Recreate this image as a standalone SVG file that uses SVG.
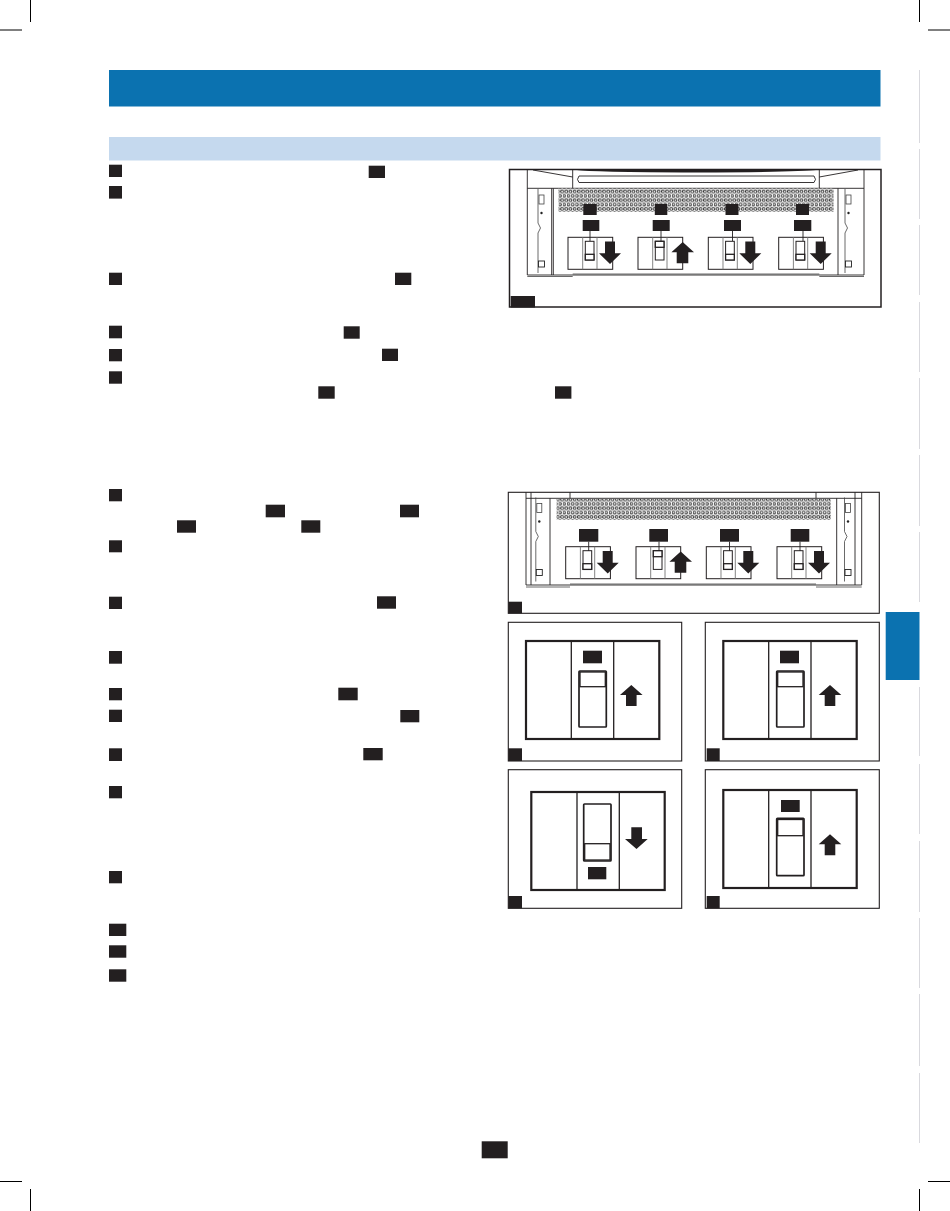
<svg xmlns="http://www.w3.org/2000/svg" width="950" height="1211" viewBox="0 0 950 1211">
<style>
.k{fill:#231f20}
.frame{fill:#fff;stroke:#231f20;stroke-width:1.1}
.crop{stroke:#000;stroke-width:1;fill:none}
.guide{stroke:#d9d9de;stroke-width:1;fill:none}
.ln{stroke:#231f20;stroke-width:.9;fill:none}
.thin{stroke:#444;stroke-width:.8;fill:none}
.gr{stroke:#777;stroke-width:.9;fill:none}
.big{fill:#fff;stroke:#231f20;stroke-width:2.200}
.sw{fill:#fff;stroke:#231f20;stroke-width:1.700}
.big2{fill:none;stroke:#231f20;stroke-width:1.300}
</style>
<defs>
<pattern id="perf" patternUnits="userSpaceOnUse" width="4.2" height="8.800">
<rect width="4.2" height="8.800" fill="#fff"/>
<circle cx="1.400" cy="2.200" r="1.400" fill="#fff" stroke="#222" stroke-width=".95"/>
<circle cx="3.500" cy="6.600" r="1.400" fill="#fff" stroke="#222" stroke-width=".95"/>
<circle cx="-.7" cy="6.600" r="1.400" fill="#fff" stroke="#222" stroke-width=".95"/>
</pattern>
<g id="arrowDown"><path class="k" d="M37 4.300H47V16H53L42 26.700 31 16H37Z"/></g>
<g id="arrowUp"><path class="k" d="M44.700 4.700 56 15H50.300V26H38.700V15H33.400Z"/></g>
<g id="brkBody">
<rect x="0" y="0" width="44.700" height="32" fill="#fff" stroke="#231f20" stroke-width="1"/>
<path class="gr" d="M14.700 0V32M29 0V32"/>
</g>
<g id="brkDown">
<use href="#brkBody"/>
<rect x="17.300" y="4" width="8.700" height="18.700" fill="#fff" stroke="#231f20" stroke-width="1"/>
<rect x="17.300" y="17" width="8.700" height="5.700" fill="#fff" stroke="#231f20" stroke-width="1.300"/>
<use href="#arrowDown"/>
</g>
<g id="brkUp">
<use href="#brkBody"/>
<rect x="17.300" y="4" width="8.700" height="18.700" fill="#fff" stroke="#231f20" stroke-width="1"/>
<rect x="17.300" y="4" width="8.700" height="6" fill="#fff" stroke="#231f20" stroke-width="1.300"/>
<use href="#arrowUp"/>
</g>
<g id="side">
<rect x="-2.500" y="0" width="5" height="9" fill="#fff" stroke="#444" stroke-width=".8"/>
<circle cx="0" cy="18" r="1.200" fill="#222"/>
<path class="thin" d="M-3.500 -6V28L-1 33-3.500 38V78"/>
<rect x="-3" y="66" width="6" height="6" fill="#fff" stroke="#222" stroke-width=".9"/>
</g>
<g id="bigUpArrow"><path class="k" d="M0 0 11.300 10H5.300V21H-5.300V10H-11.300Z"/></g>
</defs>

<g id="page-marks">
<path class="crop" d="M30.500 0V22M0 30H22M919.500 0V22M928 30H950M0 1181.500H22M30.500 1189V1211M928 1181.500H950M919.500 1189V1211"/>
<path class="guide" d="M919.500 70V143M919.500 149V219M919.500 225V295M919.500 302V372M919.500 378V449M919.500 455V526M919.500 532V602M919.500 687V756M919.500 764V834M919.500 841V912M919.500 918V988M919.500 994V1066M919.500 1073V1143"/>
</g>

<g id="header"><rect x="109" y="70" width="771.500" height="36.500" fill="#0b72b0"/></g>
<g id="subheader"><rect x="109" y="137" width="771.500" height="23.500" fill="#c5d9ee"/></g>
<g id="side-tab"><rect x="885.700" y="612" width="33.800" height="68" fill="#0b72b0"/></g>

<g id="text-tags">
<rect class="k" x="109" y="164.700" width="13" height="12.300"/>
<rect class="k" x="109" y="186" width="13" height="12.600"/>
<rect class="k" x="109" y="272.700" width="13" height="12.300"/>
<rect class="k" x="109" y="325.700" width="13" height="12.600"/>
<rect class="k" x="109" y="349" width="13" height="12.300"/>
<rect class="k" x="109" y="371.300" width="13" height="12.400"/>
<rect class="k" x="109" y="489" width="13" height="12.300"/>
<rect class="k" x="109" y="540.300" width="13" height="12"/>
<rect class="k" x="109" y="596.700" width="13" height="12.300"/>
<rect class="k" x="109" y="651" width="13" height="12.700"/>
<rect class="k" x="109" y="688" width="13" height="12.300"/>
<rect class="k" x="109" y="709.700" width="13" height="12.300"/>
<rect class="k" x="109" y="748.300" width="13" height="12.700"/>
<rect class="k" x="109" y="786" width="13" height="12.300"/>
<rect class="k" x="109" y="871" width="13" height="12.300"/>
<rect class="k" x="109" y="923.700" width="17.300" height="12.300"/>
<rect class="k" x="109" y="945.300" width="17.300" height="12.400"/>
<rect class="k" x="109" y="969.300" width="17.300" height="12.400"/>
<rect class="k" x="368.700" y="165.700" width="16.300" height="12.300"/>
<rect class="k" x="395" y="272.700" width="16.300" height="12.300"/>
<rect class="k" x="343.700" y="326.300" width="16" height="12.400"/>
<rect class="k" x="382" y="348.700" width="16" height="12.300"/>
<rect class="k" x="318.300" y="386.300" width="16.400" height="12.400"/>
<rect class="k" x="555" y="386.300" width="16.400" height="12.400"/>
<rect class="k" x="265.700" y="504.700" width="19.300" height="12.600"/>
<rect class="k" x="400" y="504.700" width="19" height="12.600"/>
<rect class="k" x="177" y="520.300" width="19" height="12.400"/>
<rect class="k" x="301.300" y="520.300" width="19" height="12.400"/>
<rect class="k" x="377" y="596.300" width="19" height="12.400"/>
<rect class="k" x="338.300" y="687.700" width="19.400" height="12.600"/>
<rect class="k" x="400.300" y="710" width="19" height="12.300"/>
<rect class="k" x="363.300" y="748" width="19.400" height="12.300"/>
</g>

<g id="figure-top">
<rect class="frame" style="stroke-width:1.500" x="509.500" y="169.500" width="371.500" height="137.500"/>
<path class="ln" d="M527.300 169.500V275M864 169.500V275M572.700 169.500V188M819.300 169.500V188M533 170 572.700 177M858 170 819.300 177M527.300 188.300H864M527.300 275H864M551.700 188.300V275M553.300 188.300V275M838 188.300V275"/>
<path class="thin" d="M527.300 276.500H572.700M819.300 276.500H864M572.700 274H819.300"/>
<path d="M577 170H816Q800 172 696 172.500 590 172 577 170Z" fill="#231f20"/>
<path d="M579 176H814Q817 179.500 814 182.500H579Q576 179.500 579 176Z" fill="#fff" stroke="#231f20" stroke-width=".9"/>
<rect x="558.500" y="188.500" width="275" height="23.500" fill="url(#perf)"/>
<use href="#side" x="541.500" y="195"/>
<use href="#side" x="848.500" y="195"/>
<use href="#brkDown" x="568" y="237.300"/>
<use href="#brkUp" x="638" y="237.300"/>
<use href="#brkDown" x="708.300" y="237.300"/>
<use href="#brkDown" x="778.700" y="237.300"/>
<rect class="k" x="583.300" y="204" width="13.400" height="11"/>
<rect class="k" x="654.800" y="204" width="12.500" height="11"/>
<rect class="k" x="725.500" y="204" width="13" height="11"/>
<rect class="k" x="796" y="204" width="13" height="11"/>
<rect class="k" x="582.700" y="220" width="16.600" height="11"/>
<rect class="k" x="652.700" y="220" width="17" height="11"/>
<rect class="k" x="724" y="220" width="17" height="11"/>
<rect class="k" x="794" y="220" width="17.300" height="11"/>
<rect class="k" x="510.700" y="296" width="24.300" height="11.500"/>
</g>

<g id="figure-middle">
<rect class="frame" x="508.300" y="492.300" width="371" height="121"/>
<path class="ln" d="M526 492.300V585M531 492.300V585M550 498.300V585M836.700 498.300V585M855 492.300V585M861.700 492.300V585M526 498.300H861.700M526 585H861.700M570 492.300V498.300M816 492.300V498.300"/>
<path class="thin" d="M526 587H570M816 587H861.700M570 584H816"/>
<rect x="556.700" y="499" width="274" height="21" fill="url(#perf)"/>
<use href="#side" x="539.300" y="503.500"/>
<use href="#side" x="848" y="503.500"/>
<use href="#brkDown" x="565.700" y="546.700"/>
<use href="#brkUp" x="636" y="546.700"/>
<use href="#brkDown" x="706.300" y="546.700"/>
<use href="#brkDown" x="777" y="546.700"/>
<rect class="k" x="579" y="529" width="19.300" height="12.700"/>
<rect class="k" x="649.300" y="529" width="18.700" height="12.700"/>
<rect class="k" x="720" y="529" width="19" height="12.700"/>
<rect class="k" x="790.700" y="529" width="18.600" height="12.700"/>
<rect class="k" x="508.300" y="601.700" width="13.700" height="11.600"/>
</g>

<g id="figure-a">
<rect class="frame" x="508.300" y="622.300" width="173.400" height="138.700"/>
<rect class="big" x="526" y="641" width="133.300" height="98"/>
<path class="big2" d="M571.300 641V739M613.700 641V739"/>
<rect class="k" x="583" y="650.700" width="19" height="12.600"/>
<rect class="sw" x="579" y="671" width="27.300" height="56" rx=".8"/>
<rect class="big2" x="580" y="672" width="25.300" height="14.700"/>
<use href="#bigUpArrow" x="631.300" y="685"/>
<rect class="k" x="508.300" y="748.300" width="13.700" height="12.700"/>
</g>

<g id="figure-b">
<rect class="frame" x="705.300" y="622.300" width="174" height="138.700"/>
<rect class="big" x="723.300" y="641" width="133.400" height="98"/>
<path class="big2" d="M768.700 641V739M811 641V739"/>
<rect class="k" x="780" y="650.700" width="19" height="12.600"/>
<rect class="sw" x="776.700" y="671" width="27.300" height="56" rx=".8"/>
<rect class="big2" x="777.700" y="672" width="25.300" height="14.700"/>
<use href="#bigUpArrow" x="830" y="685"/>
<rect class="k" x="706.700" y="748.300" width="13" height="12.700"/>
</g>

<g id="figure-c">
<rect class="frame" x="508.300" y="769.700" width="173.400" height="138.600"/>
<rect class="big" x="531.300" y="792" width="133.400" height="98"/>
<path class="big2" d="M577 792V890M619.300 792V890"/>
<rect class="sw" x="583.700" y="804" width="27.300" height="57" rx=".8"/>
<rect class="big2" x="584.700" y="843.700" width="25.300" height="16.300"/>
<path class="k" d="M631.300 827.300H642V839H647.700L636.500 849 625 839H631.300Z"/>
<rect class="k" x="588" y="867" width="18.300" height="12.300"/>
<rect class="k" x="508.300" y="896" width="13.700" height="12.300"/>
</g>

<g id="figure-d">
<rect class="frame" x="705.300" y="769.700" width="174" height="138.600"/>
<rect class="big" x="723.300" y="790" width="133.400" height="98"/>
<path class="big2" d="M768.700 790V888M811 790V888"/>
<rect class="k" x="781" y="800" width="18.700" height="12"/>
<rect class="sw" x="776.700" y="818.300" width="27.300" height="57.400" rx=".8"/>
<rect class="big2" x="777.700" y="819.500" width="25.300" height="16.200"/>
<use href="#bigUpArrow" x="830" y="834.300"/>
<rect class="k" x="706.700" y="896" width="13" height="12.300"/>
</g>

<g id="page-number"><rect class="k" x="481.700" y="1141.300" width="26" height="17"/></g>

<g id="connectors">
<path class="ln" d="M590 231V241M661 231V241M732.500 231V241M803 231V241M588.700 541.700V551M659 541.700V551M729.500 541.700V551M800 541.700V551"/>
</g>
</svg>
